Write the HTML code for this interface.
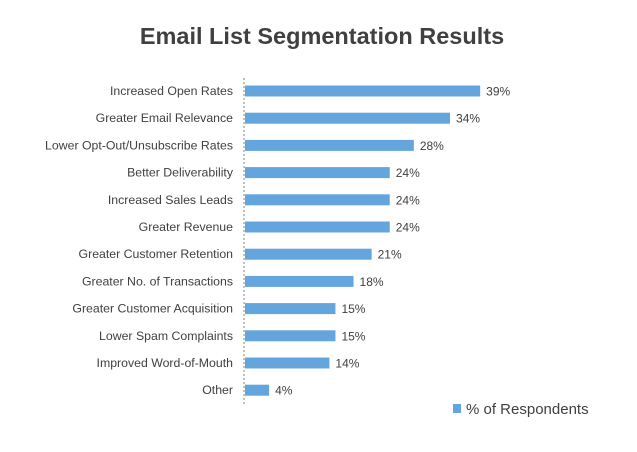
<!DOCTYPE html>
<html><head><meta charset="utf-8"><style>
body{margin:0;background:#fff;}
svg{display:block;font-family:"Liberation Sans",sans-serif;}
</style></head><body>
<svg id="chart" width="637" height="452">
<text x="322" y="44" text-anchor="middle" font-size="23.5" font-weight="bold" fill="#404040">Email List Segmentation Results</text>
<line x1="244" y1="78" x2="244" y2="404" stroke="#999" stroke-dasharray="2,2" stroke-width="1.2"/>
<g id="bars"></g>
<rect x="453" y="404" width="8" height="9" fill="#65a5dd"/>
<text x="466" y="414" font-size="15" fill="#404040">% of Respondents</text>
</svg>
<script>
const categories=["Increased Open Rates","Greater Email Relevance","Lower Opt-Out/Unsubscribe Rates","Better Deliverability","Increased Sales Leads","Greater Revenue","Greater Customer Retention","Greater No. of Transactions","Greater Customer Acquisition","Lower Spam Complaints","Improved Word-of-Mouth","Other"];
const values=[39,34,28,24,24,24,21,18,15,15,14,4];
const valueLabels=["39%","34%","28%","24%","24%","24%","21%","18%","15%","15%","14%","4%"];
const x0=245, pxPer=6.03, y0=91, step=27.2, bh=11;
const xs=v=>x0+v*pxPer, ys=i=>y0+i*step;
const g=document.getElementById('bars');
const NS="http://www.w3.org/2000/svg";
categories.forEach((c,i)=>{
  const r=document.createElementNS(NS,'rect');
  r.setAttribute('x',x0);r.setAttribute('y',ys(i)-bh/2);
  r.setAttribute('width',xs(values[i])-x0);r.setAttribute('height',bh);
  r.setAttribute('fill','#65a5dd');
  
  
  g.appendChild(r);
  const t=document.createElementNS(NS,'text');
  t.setAttribute('x',233);t.setAttribute('y',ys(i)+4);
  t.setAttribute('text-anchor','end');t.setAttribute('font-size','12.3');t.setAttribute('fill','#404040');
  t.textContent=c;
  
  
  g.appendChild(t);
  const v=document.createElementNS(NS,'text');
  v.setAttribute('x',xs(values[i])+6);v.setAttribute('y',ys(i)+4.5);
  v.setAttribute('font-size','12');v.setAttribute('fill','#404040');
  v.textContent=valueLabels[i];
  
  
  g.appendChild(v);
});
</script>
</body></html>
